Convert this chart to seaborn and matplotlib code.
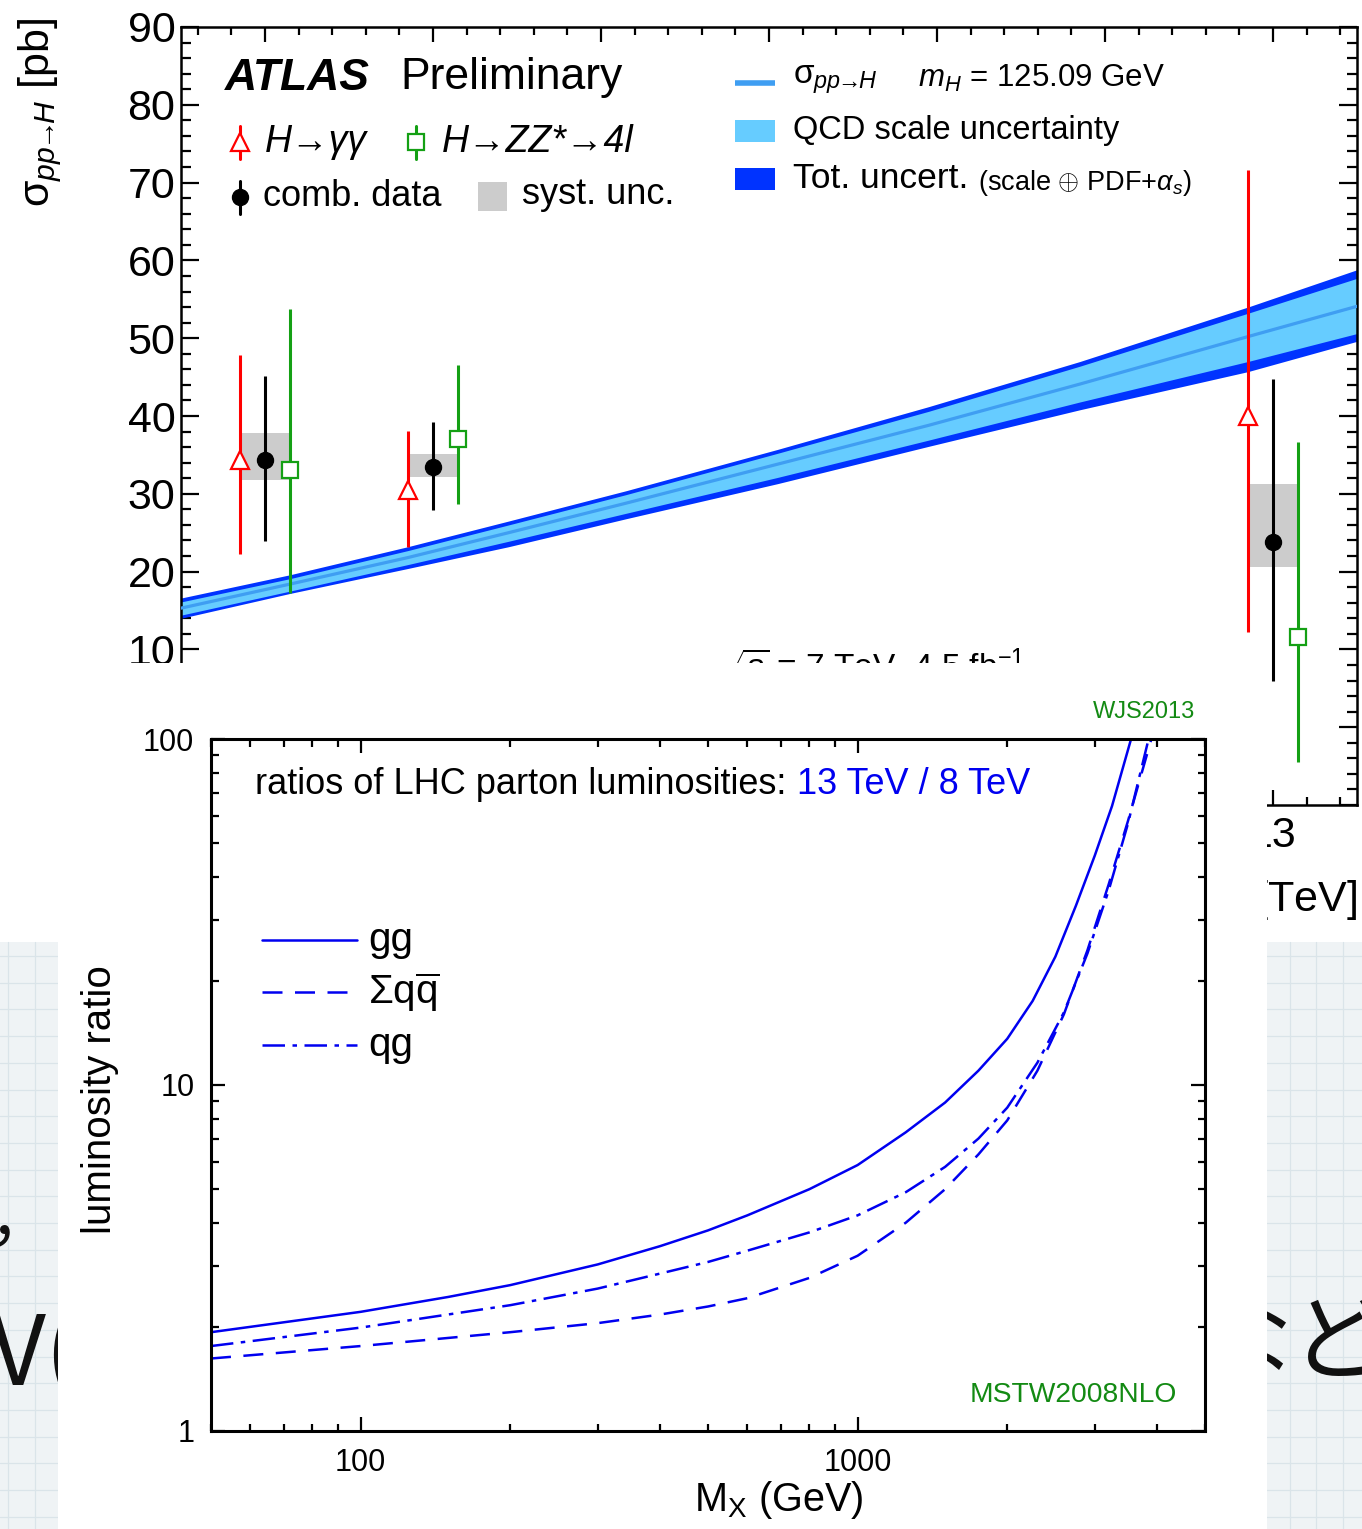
import numpy as np
import pandas as pd
import matplotlib
matplotlib.use("Agg")
import matplotlib.pyplot as plt
import seaborn as sns
from matplotlib.transforms import Affine2D, IdentityTransform
from matplotlib.patches import Rectangle
from matplotlib.lines import Line2D
from matplotlib.ticker import MultipleLocator, FixedLocator, FixedFormatter, NullFormatter

# ---------------- ATLAS sigma(pp->H) data ----------------
sqrt_s_theory = [6.5, 7.15, 7.85, 8.45, 9.15, 10.05, 10.95, 11.85, 12.85, 13.5]
sigma_central = [15.3, 18.4, 21.8, 25.0, 28.8, 33.8, 38.8, 44.1, 50.2, 54.1]
scale_up = [16.1, 19.1, 22.7, 26.0, 29.9, 35.2, 40.6, 46.4, 53.2, 57.7]
scale_dn = [14.4, 17.5, 20.9, 23.9, 27.5, 32.1, 36.9, 41.8, 47.0, 50.6]
tot_up = [16.6, 19.6, 23.2, 26.5, 30.4, 35.7, 41.2, 47.0, 54.0, 58.8]
tot_dn = [14.0, 17.2, 20.4, 23.2, 26.8, 31.3, 36.1, 40.8, 45.7, 49.6]

energies = [7, 8, 13]
energy_labels = ["7", "8", "9", "10", "11", "12", "13"]
sigma_ticks = [-10, 0, 10, 20, 30, 40, 50, 60, 70, 80, 90]
sigma_tick_labels = ["", "", "10", "20", "30", "40", "50", "60", "70", "80", "90"]
yy_val = [34.4, 30.5, 40.0]
yy_lo = [22.2, 23.2, 12.2]
yy_hi = [47.8, 38.1, 71.6]
comb_val = [34.3, 33.4, 23.8]
comb_lo = [23.9, 27.9, 6.0]
comb_hi = [45.1, 39.2, 44.8]
zz_val = [33.1, 37.0, 11.6]
zz_lo = [17.3, 28.7, -4.5]
zz_hi = [53.8, 46.6, 36.7]
syst_lo = [31.8, 32.1, 20.6]
syst_hi = [37.8, 35.1, 31.3]

# ---------------- parton luminosity ratio data (13 TeV / 8 TeV) ----------------
mass_gg = [50, 100, 150, 200, 300, 400, 500, 600, 800, 1000, 1250, 1500, 1750, 2000,
           2250, 2500, 2750, 3000, 3250, 3550]
ratio_gg = [1.93, 2.21, 2.44, 2.64, 3.03, 3.42, 3.80, 4.20, 5.00, 5.87, 7.3, 8.9, 11.0, 13.6,
            17.5, 23.5, 33, 46, 64, 100]
mass_qq = [50, 100, 200, 300, 400, 500, 600, 800, 1000, 1250, 1500, 1750, 2000, 2300,
           2600, 2900, 3200, 3500, 3900]
ratio_qq = [1.62, 1.76, 1.93, 2.05, 2.17, 2.29, 2.42, 2.77, 3.21, 4.0, 5.0, 6.3, 7.9, 11.0,
            16.0, 24.5, 38, 58, 100]
mass_qg = [50, 100, 200, 300, 400, 500, 600, 800, 1000, 1250, 1500, 1750, 2000, 2300,
           2600, 2900, 3200, 3500, 3850]
ratio_qg = [1.76, 1.99, 2.31, 2.58, 2.85, 3.08, 3.32, 3.75, 4.2, 4.9, 5.8, 7.0, 8.6, 11.6,
            16.2, 24, 36.5, 57, 100]
channels = ["gg", "qqbar", "qg"]
channel_labels = ["gg", r"$\Sigma\mathrm{q}\overline{\mathrm{q}}$", "qg"]

# ---------------- style ----------------
sns.set_theme(style="ticks")
plt.rcParams["font.family"] = ["Liberation Sans", "DejaVu Sans"]
plt.rcParams["mathtext.fontset"] = "custom"
plt.rcParams["mathtext.rm"] = "Liberation Sans"
plt.rcParams["mathtext.it"] = "Liberation Sans:italic"
plt.rcParams["mathtext.bf"] = "Liberation Sans:bold"
plt.rcParams["mathtext.sf"] = "Liberation Sans"
for k in ["axes.edgecolor", "xtick.color", "ytick.color", "text.color", "axes.labelcolor"]:
    plt.rcParams[k] = "black"

RED = "#ff0000"
GREEN = "#14a014"
DARK = "#0033ff"
LIGHT = "#66ccff"
MID = "#3f9ef2"
BLUE = "#0000f0"
TXTGREEN = "#138a13"

W, H = 1362, 1529
fig = plt.figure(figsize=(W / 100, H / 100), dpi=100, facecolor="white")
PX = Affine2D().scale(1.0 / W, -1.0 / H).translate(0, 1) + fig.transFigure


def rect(x0, y0, x1, y1):
    return [x0 / W, 1 - y1 / H, (x1 - x0) / W, (y1 - y0) / H]


# ---------------- background (grid paper + slide text) ----------------
bg = fig.add_axes([0, 0, 1, 1], zorder=0)
bg.set_axis_off()
PAPER_TOP = 942
bg.add_patch(Rectangle((0, PAPER_TOP), W, H - PAPER_TOP, transform=PX,
                       facecolor="#eff3f5", edgecolor="none", zorder=0))
for yy in np.arange(PAPER_TOP + 14, H, 26.7):
    bg.add_line(Line2D([0, W], [yy, yy], transform=PX, color="#dae4e9", lw=0.9, zorder=1))
for xx in np.arange(8, W, 26.7):
    bg.add_line(Line2D([xx, xx], [PAPER_TOP, H], transform=PX, color="#dae4e9", lw=0.9, zorder=1))
CJK = ["Noto Sans CJK JP", "DejaVu Sans"]
bg.text(1197, 1345, "など", transform=PX, fontsize=68, family=CJK, ha="left", va="center",
        color="#111111", zorder=3)
bg.text(-10, 1385, "V(", transform=PX, fontsize=70, family=CJK, ha="left", va="baseline",
        color="#111111", zorder=3)
bg.text(-6, 1234, ",", transform=PX, fontsize=48, family=CJK, ha="left", va="baseline",
        color="#111111", zorder=3)

# ---------------- ATLAS cross-section panel ----------------
ax1 = fig.add_axes(rect(181, 27, 1357, 805), zorder=1)
ax1.fill_between(sqrt_s_theory, tot_dn, tot_up, color=DARK, lw=0, zorder=1)
ax1.fill_between(sqrt_s_theory, scale_dn, scale_up, color=LIGHT, lw=0, zorder=2)
sns.lineplot(x=sqrt_s_theory, y=sigma_central, ax=ax1, color=MID, lw=2.3, zorder=3)

e = np.array(energies, float)
ax1.bar(e, np.array(syst_hi) - np.array(syst_lo), bottom=syst_lo, width=0.3,
        color="#cccccc", lw=0, zorder=4)


def eb(x, v, lo, hi, **kw):
    v, lo, hi = map(np.asarray, (v, lo, hi))
    ax1.errorbar(x, v, yerr=[v - lo, hi - v], capsize=0, elinewidth=2.2, zorder=5, **kw)


OFF = 0.15
eb(e - OFF, yy_val, yy_lo, yy_hi, fmt="^", color=RED, mfc="white", mec=RED, ms=13, mew=1.6)
eb(e, comb_val, comb_lo, comb_hi, fmt="o", color="black", ms=11.5)
eb(e + OFF, zz_val, zz_lo, zz_hi, fmt="s", color=GREEN, mfc="white", mec=GREEN, ms=11.5, mew=1.6)

ax1.set_xlim(6.5, 13.5)
ax1.set_ylim(-10, 90)
ax1.xaxis.set_major_locator(FixedLocator(list(range(7, 14))))
ax1.xaxis.set_major_formatter(FixedFormatter(energy_labels))
ax1.xaxis.set_minor_locator(MultipleLocator(0.2))
ax1.yaxis.set_major_locator(FixedLocator(sigma_ticks))
ax1.yaxis.set_major_formatter(FixedFormatter(sigma_tick_labels))
ax1.yaxis.set_minor_locator(MultipleLocator(2))
ax1.tick_params(which="both", direction="in", top=True, right=True, width=1.6)
ax1.tick_params(axis="y", which="major", length=13, labelsize=31, pad=4)
ax1.tick_params(axis="y", which="minor", length=7)
ax1.tick_params(axis="x", which="major", length=11, labelsize=31, pad=8)
ax1.tick_params(axis="x", which="minor", length=6)
for s in ax1.spines.values():
    s.set_linewidth(1.8)
ax1.set_xlabel("")
ax1.set_ylabel("")

T = dict(transform=PX, clip_on=False)
SIG = r"$\mathrm{\sigma}_{pp\!\!\rightarrow\!\!H}$"
ax1.text(40, 18, SIG + " [pb]", rotation=90, ha="center", va="top", fontsize=31, **T)
ax1.text(1357, 897, r"$\sqrt{s}$ [TeV]", ha="right", va="center", fontsize=31, **T)

ax1.text(225, 78, "ATLAS", fontsize=32, weight="bold", style="italic", ha="left", va="center", **T)
ax1.text(400, 78, "Preliminary", fontsize=32, ha="left", va="center", **T)

ax1.add_line(Line2D([240, 240], [126, 159], color=RED, lw=2.2, **T))
ax1.add_line(Line2D([240], [142], marker="^", ms=13, mfc="white", mec=RED, mew=1.6, **T))
ax1.text(265, 142, "H→γγ", style="italic", fontsize=27, ha="left", va="center", **T)
ax1.add_line(Line2D([416, 416], [126, 159], color=GREEN, lw=2.2, **T))
ax1.add_line(Line2D([416], [142], marker="s", ms=11, mfc="white", mec=GREEN, mew=1.6, **T))
ax1.text(442, 142, "H→ZZ*→4l", style="italic", fontsize=27, ha="left", va="center", **T)
ax1.add_line(Line2D([240, 240], [181, 214], color="black", lw=2.2, **T))
ax1.add_line(Line2D([240], [197], marker="o", ms=11.5, color="black", **T))
ax1.text(263, 197, "comb. data", fontsize=26, ha="left", va="center", **T)
ax1.add_patch(Rectangle((478, 182), 29, 29, facecolor="#cccccc", edgecolor="none", **T))
ax1.text(522, 195, "syst. unc.", fontsize=26, ha="left", va="center", **T)

ax1.add_line(Line2D([735, 775], [83, 83], color=MID, lw=4, solid_capstyle="butt", **T))
ax1.text(793, 80, SIG, fontsize=24, ha="left", va="center", **T)
ax1.text(918, 78, r"$m_{H}$ = 125.09 GeV", fontsize=22.5, ha="left", va="center", **T)
ax1.add_patch(Rectangle((735, 120), 40, 22, facecolor=LIGHT, edgecolor="none", **T))
ax1.text(793, 130, "QCD scale uncertainty", fontsize=23.5, ha="left", va="center", **T)
ax1.add_patch(Rectangle((735, 168), 40, 22, facecolor=DARK, edgecolor="none", **T))
ax1.text(793, 178, "Tot. uncert.", fontsize=25.5, ha="left", va="center", **T)
ax1.text(978, 183, r"(scale $\oplus$ PDF+$\alpha_{s}$)", fontsize=19.5, ha="left", va="center", **T)
ax1.text(720, 647, r"$\sqrt{s}$ = 7 TeV, 4.5 fb$^{-1}$", fontsize=24, ha="left", va="top", **T)

# ---------------- overlaid white panel ----------------
panel = fig.add_axes([0, 0, 1, 1], zorder=2)
panel.set_axis_off()
panel.add_patch(Rectangle((58, 663), 1267 - 58, H - 663, transform=PX,
                          facecolor="white", edgecolor="none"))

# ---------------- luminosity ratio panel ----------------
ax2 = fig.add_axes(rect(211, 739, 1205, 1431), zorder=3)
ax2.set_xscale("log")
ax2.set_yscale("log")
df = pd.concat([
    pd.DataFrame({"M": mass_gg, "ratio": ratio_gg, "channel": "gg"}),
    pd.DataFrame({"M": mass_qq, "ratio": ratio_qq, "channel": "qqbar"}),
    pd.DataFrame({"M": mass_qg, "ratio": ratio_qg, "channel": "qg"}),
], ignore_index=True)
DASHES = {"gg": "", "qqbar": (8, 5), "qg": (9, 3, 1.8, 3)}
sns.lineplot(data=df, x="M", y="ratio", style="channel", style_order=channels, dashes=DASHES,
             color=BLUE, lw=1.8, estimator=None, legend=False, ax=ax2)
ax2.set_xlim(50, 5000)
ax2.set_ylim(1, 100)
ax2.xaxis.set_major_locator(FixedLocator([100, 1000]))
ax2.xaxis.set_major_formatter(FixedFormatter(["100", "1000"]))
ax2.xaxis.set_minor_locator(FixedLocator([50, 60, 70, 80, 90] + list(range(200, 1000, 100)) +
                                         [2000, 3000, 4000, 5000]))
ax2.xaxis.set_minor_formatter(NullFormatter())
ax2.yaxis.set_major_locator(FixedLocator([1, 10, 100]))
ax2.yaxis.set_major_formatter(FixedFormatter(["1", "10", "100"]))
ax2.yaxis.set_minor_locator(FixedLocator(list(range(2, 10)) + list(range(20, 100, 10))))
ax2.yaxis.set_minor_formatter(NullFormatter())
ax2.tick_params(which="both", direction="in", top=True, right=True, width=1.6)
ax2.tick_params(which="major", length=10, labelsize=22, pad=12)
ax2.tick_params(which="minor", length=5.4)
for s in ax2.spines.values():
    s.set_linewidth(2.2)
ax2.set_xlabel("")
ax2.set_ylabel("")

ax2.text(100, 1100, "luminosity ratio", rotation=90, ha="center", va="center", fontsize=29, **T)
ax2.text(779, 1500, r"M$_{\mathrm{X}}$ (GeV)", ha="center", va="center", fontsize=28.5, **T)
ax2.text(1195, 712, "WJS2013", ha="right", va="center", fontsize=17, color=TXTGREEN, **T)
ax2.text(1177, 1395, "MSTW2008NLO", ha="right", va="center", fontsize=20.3, color=TXTGREEN, **T)

TITLE_FS = 26.0
t1 = ax2.text(255, 785, "ratios of LHC parton luminosities:", ha="left", va="center",
              fontsize=TITLE_FS, **T)
fig.canvas.draw()
bb = t1.get_window_extent()
gap = 0.3 * TITLE_FS * 100 / 72
ax2.text(bb.x1 + gap, (bb.y0 + bb.y1) / 2, "13 TeV / 8 TeV", transform=IdentityTransform(),
         ha="left", va="center", fontsize=TITLE_FS, color=BLUE, clip_on=False)

legend_y = [940, 992, 1045]
for ch, lab, ly in zip(channels, channel_labels, legend_y):
    ln = Line2D([262, 357], [ly, ly], color=BLUE, lw=1.8, **T)
    if DASHES[ch]:
        ln.set_dashes(DASHES[ch])
    ax2.add_line(ln)
    ax2.text(368, ly, lab, ha="left", va="center", fontsize=29, **T)

fig.savefig("out.png", dpi=100, facecolor="white")
